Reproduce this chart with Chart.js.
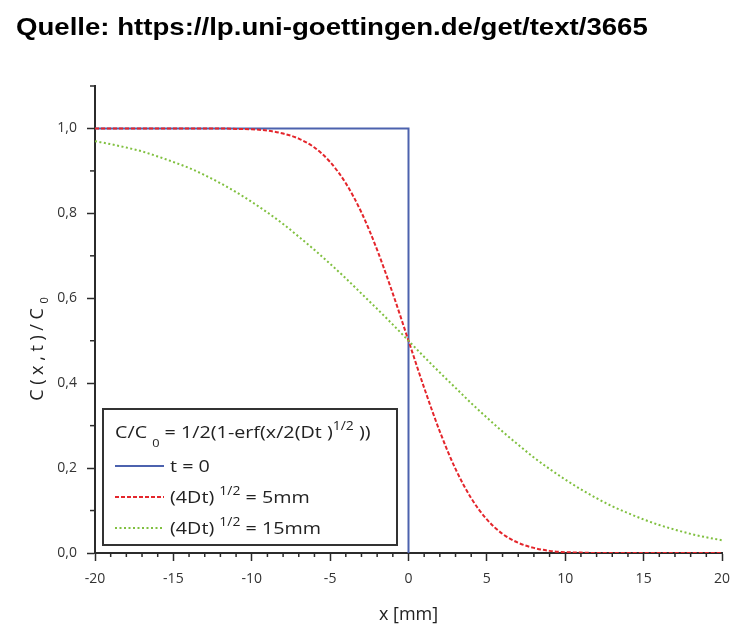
<!DOCTYPE html>
<html>
<head>
<meta charset="utf-8">
<script src="https://cdn.jsdelivr.net/npm/chart.js@4.4.1/dist/chart.umd.min.js"></script>
<style>
html,body{margin:0;padding:0;background:#ffffff;}
canvas{display:block;}
</style>
</head>
<body>
<canvas id="chart" width="741" height="636"></canvas>
<script>
// ---------- text ----------
const titleText = 'Quelle: https://lp.uni-goettingen.de/get/text/3665';
const xAxisTitle = 'x [mm]';
const yAxisTitleMain = 'C(x,t)/C';
const yAxisTitleSub = '0';

// ---------- tick labels ----------
const xTickLabels = ['-20', '-15', '-10', '-5', '0', '5', '10', '15', '20'];
const yTickLabels = ['0,0', '0,2', '0,4', '0,6', '0,8', '1,0'];

// ---------- data ----------
const xPositions = [-20, -19, -18, -17, -16, -15, -14, -13, -12, -11, -10, -9, -8, -7, -6, -5, -4, -3, -2, -1,
                    0, 1, 2, 3, 4, 5, 6, 7, 8, 9, 10, 11, 12, 13, 14, 15, 16, 17, 18, 19, 20];

// t = 0 (step profile)
const stepX = [-20, 0, 0];
const stepY = [1.0, 1.0, 0.0];

// (4Dt)^1/2 = 5mm
const red5mm = [1.000, 1.000, 1.000, 1.000, 1.000, 1.000, 1.000, 1.000, 1.000, 0.999, 0.998, 0.995, 0.988, 0.976, 0.955, 0.921, 0.871, 0.802, 0.714, 0.611,
                0.500, 0.389, 0.286, 0.198, 0.129, 0.079, 0.045, 0.024, 0.012, 0.005, 0.002, 0.001, 0.000, 0.000, 0.000, 0.000, 0.000, 0.000, 0.000, 0.000, 0.000];

// (4Dt)^1/2 = 15mm
const green15mm = [0.970, 0.963, 0.955, 0.946, 0.934, 0.921, 0.907, 0.890, 0.871, 0.850, 0.827, 0.802, 0.775, 0.745, 0.714, 0.681, 0.647, 0.611, 0.575, 0.538,
                   0.500, 0.462, 0.425, 0.389, 0.353, 0.319, 0.286, 0.255, 0.225, 0.198, 0.173, 0.150, 0.129, 0.110, 0.094, 0.079, 0.066, 0.055, 0.045, 0.037, 0.030];

// legend text (segments: [text, 0 normal / 1 superscript / -1 subscript])
const legendFormula = [['C/C ', 0], ['0', -1], [' = 1/2(1-erf(x/2(Dt )', 0], ['1/2', 1], [' ))', 0]];
const legendStep = [['t = 0', 0]];
const legend5mm = [['(4Dt) ', 0], ['1/2', 1], [' = 5mm', 0]];
const legend15mm = [['(4Dt) ', 0], ['1/2', 1], [' = 15mm', 0]];

// ---------- styles ----------
const AXIS = '#2b2b2b';
const FONT = '"Open Sans", "DejaVu Sans", sans-serif';
const BLUE = '#4c62ae';
const RED = '#e4262c';
const GREEN = '#80c040';

const toPts = (xs, ys) => xs.map((x, i) => ({x: x, y: ys[i]}));
const labelVal = s => Number(s.replace(',', '.'));

// draws text segments starting at (0, baseline) in current transform
function drawSegments(ctx, segs, baseline, size) {
  let cx = 0;
  segs.forEach(([t, kind]) => {
    if (kind === 0) {
      ctx.font = size + 'px ' + FONT;
      ctx.fillText(t, cx, baseline);
    } else if (kind === 1) {
      ctx.font = Math.round(size * 0.68) + 'px ' + FONT;
      ctx.fillText(t, cx, baseline - size * 0.5);
    } else {
      ctx.font = Math.round(size * 0.65) + 'px ' + FONT;
      ctx.fillText(t, cx, baseline + size * 0.5);
    }
    cx += ctx.measureText(t).width;
  });
}

const decorPlugin = {
  id: 'decor',
  afterDraw(chart) {
    const ctx = chart.ctx;
    const xs = chart.scales.x, ys = chart.scales.y;
    const area = chart.chartArea;
    ctx.save();
    // minor ticks
    ctx.strokeStyle = AXIS;
    ctx.lineWidth = 1.5;
    xs.ticks.forEach(t => {
      if (Math.round(t.value) % 5 !== 0) {
        const px = xs.getPixelForValue(t.value);
        ctx.beginPath(); ctx.moveTo(px, area.bottom); ctx.lineTo(px, area.bottom + 4); ctx.stroke();
      }
    });
    ys.ticks.forEach(t => {
      if (Math.round(t.value * 10) % 2 !== 0) {
        const py = ys.getPixelForValue(t.value);
        ctx.beginPath(); ctx.moveTo(area.left - 5, py); ctx.lineTo(area.left, py); ctx.stroke();
      }
    });

    // title (horizontally stretched like the reference)
    ctx.save();
    ctx.fillStyle = '#000';
    ctx.font = 'bold 23px "Liberation Sans", Arial, sans-serif';
    ctx.textBaseline = 'alphabetic';
    ctx.textAlign = 'left';
    ctx.translate(16, 35);
    ctx.scale(1.2, 1);
    ctx.fillText(titleText, 0, 0);
    ctx.restore();

    // y axis title (rotated, letter-spaced)
    ctx.save();
    ctx.translate(43, 349);
    ctx.rotate(-Math.PI / 2);
    ctx.fillStyle = '#222';
    ctx.textBaseline = 'alphabetic';
    const sp = 4.6;
    ctx.font = '18px ' + FONT;
    let total = 0;
    for (const ch of yAxisTitleMain) total += ctx.measureText(ch).width + sp;
    ctx.font = '11px ' + FONT;
    total += ctx.measureText(yAxisTitleSub).width;
    let cx = -total / 2;
    ctx.font = '18px ' + FONT;
    for (const ch of yAxisTitleMain) { ctx.fillText(ch, cx, 0); cx += ctx.measureText(ch).width + sp; }
    ctx.font = '11px ' + FONT;
    ctx.fillText(yAxisTitleSub, cx, 5);
    ctx.restore();

    // legend box
    const bx = area.left + 8, by = area.bottom - 144, bw = 294, bh = 136;
    ctx.fillStyle = '#fff';
    ctx.fillRect(bx, by, bw, bh);
    ctx.strokeStyle = '#333';
    ctx.lineWidth = 2;
    ctx.strokeRect(bx, by, bw, bh);
    ctx.fillStyle = '#222';
    ctx.save();
    ctx.translate(bx + 12, by + 29);
    ctx.scale(1.16, 1);
    drawSegments(ctx, legendFormula, 0, 17);
    ctx.restore();
    const rows = [[legendStep, 0], [legend5mm, 1], [legend15mm, 2]];
    rows.forEach(([segs, di], i) => {
      const ds = chart.data.datasets[di];
      const cy = by + 57 + i * 31;
      ctx.save();
      ctx.strokeStyle = ds.borderColor;
      ctx.lineWidth = 2;
      ctx.setLineDash(ds.borderDash || []);
      ctx.beginPath(); ctx.moveTo(bx + 12, cy); ctx.lineTo(bx + 61, cy); ctx.stroke();
      ctx.restore();
      ctx.save();
      ctx.fillStyle = '#222';
      ctx.translate(bx + 67, cy + 6);
      ctx.scale(1.16, 1);
      drawSegments(ctx, segs, 0, 17);
      ctx.restore();
    });
    ctx.restore();
  }
};

new Chart(document.getElementById('chart'), {
  type: 'scatter',
  data: {
    datasets: [
      {label: 't = 0', data: toPts(stepX, stepY), showLine: true, borderColor: BLUE, borderWidth: 2,
       pointRadius: 0, tension: 0, order: 3},
      {label: '(4Dt)^1/2 = 5mm', data: toPts(xPositions, red5mm), showLine: true, borderColor: RED, borderWidth: 2,
       borderDash: [4, 2], pointRadius: 0, cubicInterpolationMode: 'monotone', order: 2},
      {label: '(4Dt)^1/2 = 15mm', data: toPts(xPositions, green15mm), showLine: true, borderColor: GREEN, borderWidth: 2,
       borderDash: [2, 2.5], pointRadius: 0, cubicInterpolationMode: 'monotone', order: 1}
    ]
  },
  options: {
    responsive: false,
    animation: false,
    devicePixelRatio: 1,
    layout: {padding: {left: 0, top: 86, right: 19, bottom: 0}},
    plugins: {legend: {display: false}, tooltip: {enabled: false}, title: {display: false}},
    scales: {
      x: {
        type: 'linear', min: -20, max: 20,
        afterFit: s => { s.height = 83; },
        border: {display: true, color: AXIS, width: 2},
        grid: {display: true, drawOnChartArea: false, drawTicks: true, tickLength: 8, tickWidth: 1.5,
               tickColor: c => (c.tick && Math.round(c.tick.value) % 5 === 0) ? AXIS : 'rgba(0,0,0,0)'},
        ticks: {
          stepSize: 1, autoSkip: false, maxRotation: 0, padding: 10,
          color: '#333', font: {family: FONT, size: 14},
          callback: v => { const l = xTickLabels.find(s => labelVal(s) === Math.round(v)); return (l !== undefined && Math.abs(v - Math.round(v)) < 1e-9) ? l : ''; }
        },
        title: {display: true, text: xAxisTitle, color: '#222', font: {family: FONT, size: 18}, padding: {top: 0, bottom: 10}}
      },
      y: {
        type: 'linear', min: 0, max: 1.1,
        afterFit: s => { s.width = 95; },
        border: {display: true, color: AXIS, width: 2},
        grid: {display: true, drawOnChartArea: false, drawTicks: true, tickLength: 8, tickWidth: 1.5,
               tickColor: c => (c.tick && Math.round(c.tick.value * 10) % 2 === 0) ? AXIS : 'rgba(0,0,0,0)'},
        ticks: {
          stepSize: 0.1, autoSkip: false, padding: 10,
          color: '#333', font: {family: FONT, size: 14},
          callback: v => { const l = yTickLabels.find(s => Math.round(labelVal(s) * 10) === Math.round(v * 10)); return l !== undefined ? l : ''; }
        }
      }
    }
  },
  plugins: [decorPlugin]
});
</script>
</body>
</html>
